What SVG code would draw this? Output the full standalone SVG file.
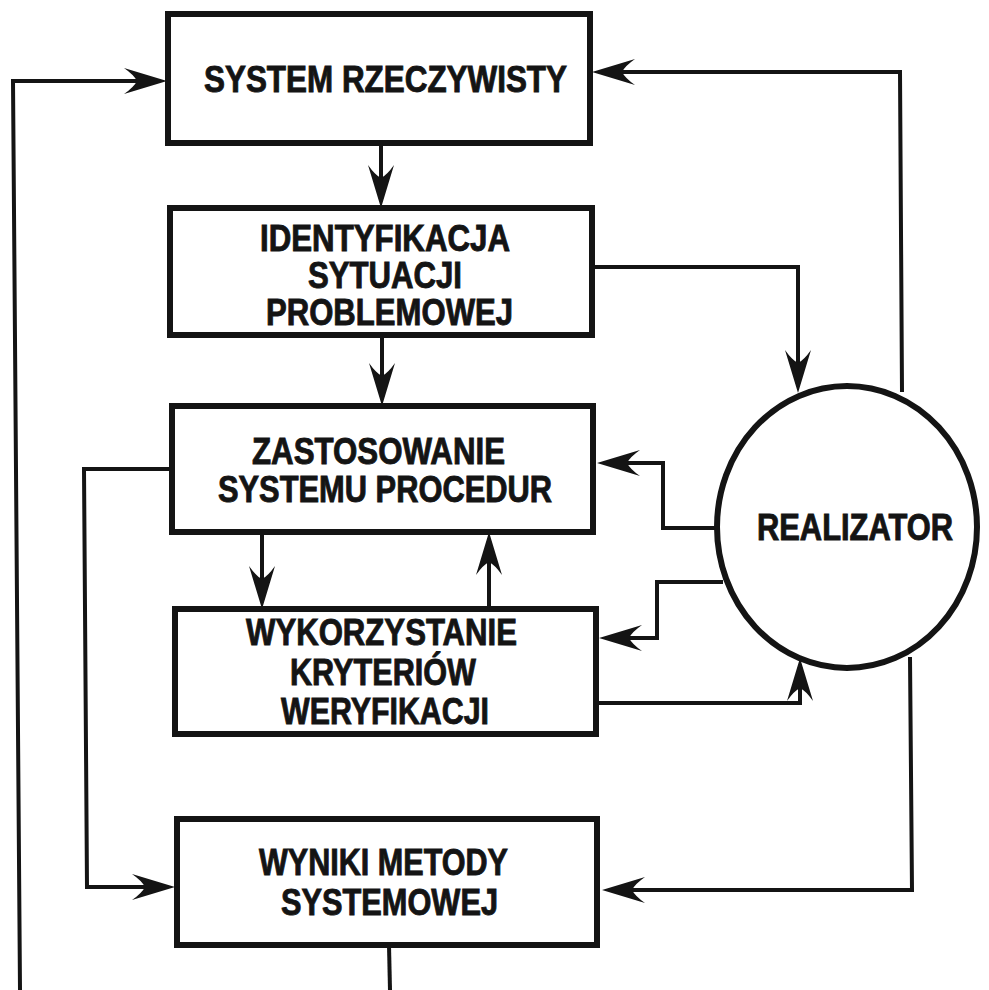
<svg xmlns="http://www.w3.org/2000/svg" width="989" height="990" viewBox="0 0 989 990">
<defs>
<style>
.box{fill:#fff;stroke:#141414;stroke-width:6}
.lbl{font-family:"Liberation Sans",Arial,sans-serif;font-weight:bold;font-size:36px;fill:#141414;stroke:#141414;stroke-width:0.9}
.conn{fill:none;stroke:#141414;stroke-width:4;stroke-linejoin:miter}
.arr{marker-end:url(#ah)}
</style>
<marker id="ah" markerUnits="userSpaceOnUse" markerWidth="44" markerHeight="28" viewBox="0 0 44 28" refX="13" refY="14" orient="auto">
<path d="M43,14 L0,1 Q10,8 13,14 Q10,20 0,27 Z" fill="#141414"/>
</marker>
</defs>
<rect width="989" height="990" fill="#fff"/>
<g id="connectors">
<path class="conn arr" d="M20,990 L13,81 L137,81"/>
<path class="conn arr" d="M902,392 L900,72 L622,72"/>
<path class="conn arr" d="M592,267 L798,267 L798,363"/>
<path class="conn arr" d="M381,143 L381,178"/>
<path class="conn arr" d="M382,335 L382,376"/>
<path class="conn arr" d="M717,528 L663,528 L663,463 L627,463"/>
<path class="conn arr" d="M723,582 L657,582 L657,638 L629,638"/>
<path class="conn arr" d="M172,469 L84,469 L87,887 L145,887"/>
<path class="conn arr" d="M262,532 L262,579"/>
<path class="conn arr" d="M489,609 L489,562"/>
<path class="conn arr" d="M596,703 L800,703 L800,688"/>
<path class="conn arr" d="M910,657 L912,890 L632,890"/>
<path class="conn" d="M389,945 L390,990"/>
</g>
<g id="system-rzeczywisty">
<rect class="box" x="168" y="14" width="422" height="129"/>
<text class="lbl" x="204" y="92" textLength="363" lengthAdjust="spacingAndGlyphs">SYSTEM RZECZYWISTY</text>
</g>
<g id="identyfikacja">
<rect class="box" x="170" y="208" width="422" height="127"/>
<text class="lbl" x="260" y="251" textLength="250" lengthAdjust="spacingAndGlyphs">IDENTYFIKACJA</text>
<text class="lbl" x="308" y="288" textLength="154" lengthAdjust="spacingAndGlyphs">SYTUACJI</text>
<text class="lbl" x="266" y="325" textLength="247" lengthAdjust="spacingAndGlyphs">PROBLEMOWEJ</text>
</g>
<g id="zastosowanie">
<rect class="box" x="172" y="406" width="421" height="126"/>
<text class="lbl" x="252" y="464" textLength="253" lengthAdjust="spacingAndGlyphs">ZASTOSOWANIE</text>
<text class="lbl" x="218" y="502" textLength="334" lengthAdjust="spacingAndGlyphs">SYSTEMU PROCEDUR</text>
</g>
<g id="wykorzystanie">
<rect class="box" x="175" y="609" width="421" height="125"/>
<text class="lbl" x="246" y="645" textLength="271" lengthAdjust="spacingAndGlyphs">WYKORZYSTANIE</text>
<text class="lbl" x="290" y="685" textLength="186" lengthAdjust="spacingAndGlyphs">KRYTERIÓW</text>
<text class="lbl" x="281" y="724" textLength="208" lengthAdjust="spacingAndGlyphs">WERYFIKACJI</text>
</g>
<g id="wyniki">
<rect class="box" x="177" y="819" width="420" height="126"/>
<text class="lbl" x="259" y="875" textLength="249" lengthAdjust="spacingAndGlyphs">WYNIKI METODY</text>
<text class="lbl" x="281" y="915" textLength="217" lengthAdjust="spacingAndGlyphs">SYSTEMOWEJ</text>
</g>
<g id="realizator">
<ellipse class="box" cx="847" cy="527" rx="130" ry="141"/>
<text class="lbl" x="757" y="540" textLength="196" lengthAdjust="spacingAndGlyphs">REALIZATOR</text>
</g>
</svg>
